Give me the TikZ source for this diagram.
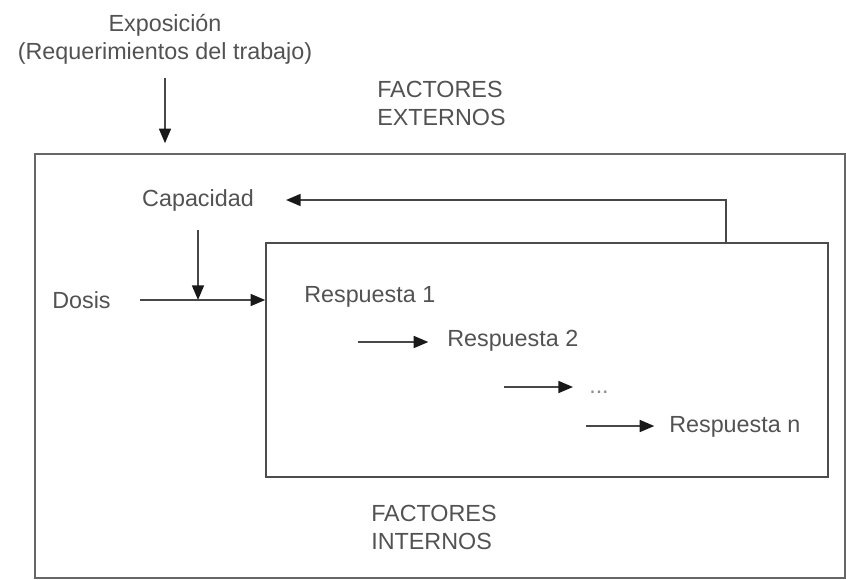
\documentclass[tikz,border=0pt]{standalone}
\usepackage{fontspec}
\setmainfont{Liberation Sans}
\usetikzlibrary{arrows.meta}

\tikzset{
  txt/.style={text=black!68, inner sep=0pt, font=\fontsize{17.5}{21}\selectfont},
  arr/.style={draw=black!72, line width=1.3pt, -{Triangle[length=11pt,width=9pt,color=black!90]}},
  box/.style={draw=black!60, line width=1.2pt, inner sep=0pt},
}

\begin{document}
\begin{tikzpicture}[x=0.75pt,y=0.75pt,yscale=-1,xscale=1]
\useasboundingbox (0,0) rectangle (846,579);

%Boxes
\node[box, minimum width=607.5pt, minimum height=318pt] (outer) at (440,366) {};
\node[box, draw=black!70, minimum width=421.5pt, minimum height=175.5pt] (resp) at (547,360) {};

% Text Node
\node[txt, align=center] (expo) at (165,39) {Exposición\\(Requerimientos del trabajo)};
% Text Node
\node[txt, align=left, anchor=west] (ext) at (377,103) {FACTORES\\EXTERNOS};
% Text Node
\node[txt] (cap) at (198,200) {Capacidad};
% Text Node
\node[txt, anchor=west] (dosis) at (52,300) {Dosis};
% Text Node
\node[txt, anchor=west] (r1) at (304,297) {Respuesta 1};
% Text Node
\node[txt, anchor=west] (r2) at (447,341) {Respuesta 2};
% Text Node
\node[txt, text=black!45, anchor=base west] (dots) at (589,393) {...};
% Text Node
\node[txt, anchor=west] (rn) at (669,427) {Respuesta n};
% Text Node
\node[txt, align=left, anchor=west] (int) at (371,527) {FACTORES\\INTERNOS};

%Arrows
\draw[arr, shorten <=10pt, shorten >=7.5pt] (expo) -- (expo |- outer.north);
\coordinate (fb) at (726,243);
\draw[arr, shorten >=24pt] (fb) |- (cap);
\draw[arr, shorten <=14pt] (cap) -- (cap |- dosis);
\draw[arr, shorten <=22pt] (dosis) -- (resp.west |- dosis);

\coordinate (s2) at (358,342);
\coordinate (s3) at (504,387);
\coordinate (sn) at (586,426);
\draw[arr, shorten >=14pt] (s2) -- (s2 -| r2.west);
\draw[arr, shorten >=12pt] (s3) -- (s3 -| dots.west);
\draw[arr, shorten >=11pt] (sn) -- (sn -| rn.west);

\end{tikzpicture}
\end{document}
